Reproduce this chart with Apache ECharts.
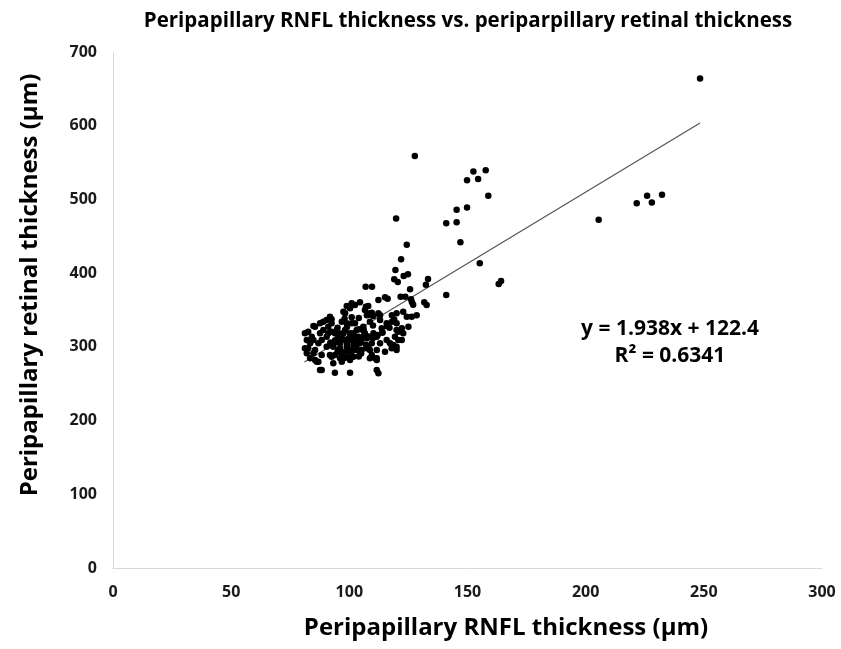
<!DOCTYPE html>
<html>
<head>
<meta charset="utf-8">
<script src="https://cdn.jsdelivr.net/npm/echarts@6/dist/echarts.min.js"></script>
<style>
  html, body { margin: 0; padding: 0; background: #fff; }
  #scatter { width: 841px; height: 649px; }
</style>
</head>
<body>
<div id="scatter"></div>
<script>
// 데이터
const rnfl = [
  248.4, 205.5, 221.6, 226, 228, 232.3,
  127.7, 152.5, 157.7, 149.8, 154.5, 158.8,
  119.8, 145.4, 149.8, 141, 145.4, 147,
  124.3, 121.9, 155.2, 163.2, 164.2,
  119.5, 123, 124.8, 119, 120.5,
  106.9, 109.6, 133.3, 132.4, 125.7, 141,
  115.1, 116.2, 112.3, 121.7, 123.7,
  131.7, 132.7, 126.5, 127, 107,
  98.9, 101, 102.4, 104.5, 97.5, 91.8,
  109.5, 110.2, 126.1,
  108.7, 112.3, 113, 118, 120, 122.8, 124.3,
  92.5, 89, 84.8, 81.2, 82, 82.6, 83.4,
  85.5, 86.9, 87.6, 93.9, 100.3, 111.6, 112.3,
  108.7, 111.6, 115.1, 118.6, 120, 122.2,
  125, 120, 122.2, 126.4, 115.8, 118, 113.7,
  110.2, 111.6, 109.5, 107.4, 104.5, 100.3,
  101.7, 96.8, 96.1, 93.2, 91.8, 90.4, 91.8,
  90.4, 91.1, 92.5, 94.7, 95.3, 96.1,
  97.5, 98.2, 98.9, 98.9, 100.3, 101, 101.7,
  102.4, 103.1, 103.8, 104.5, 105.9, 106.6,
  107.4, 87.6, 88.3, 86.9, 84.8, 85.5, 84.8,
  88.3, 93.9, 95.3, 92.5, 98.9, 102.4, 108.7,
  113, 120, 128.5, 115.8, 117.2, 113, 111.6,
  122.8, 108, 109.5, 120.7, 119.3, 117.9, 120,
  120.7, 108.7, 109.5, 110.9, 111.6,
  98.2, 100.3, 106.6, 107.4, 90.4, 87.6, 85.5,
  82.6, 84.1, 83.4, 81.2, 82, 86.2, 88.3,
  93.9, 95.3, 93.2, 96.8, 99.6, 92.5, 98.2,
  101.7, 103.1, 105.2, 105.9, 101, 91.1, 96.8,
  // 밀집 영역 추가
  94, 96, 97, 99, 100, 102, 103, 105, 106, 108,
  95, 97, 99, 101, 103, 104, 106, 108, 110, 112,
  94, 96, 98, 100, 102, 104, 105, 107, 114, 116,
  89, 92, 95, 98, 101, 104, 110, 114, 117, 119
];
const retinal = [
  664, 472.5, 494.8, 505, 496, 506.5,
  559, 538, 539.5, 526, 527.7, 505,
  474, 486, 489, 467.6, 469, 442,
  438.6, 418.8, 413.4, 385.3, 389.4,
  404.3, 396, 398.5, 391.7, 388,
  381.6, 381.6, 392, 384.4, 378, 370.4,
  367.3, 365.4, 363.6, 368, 368,
  360.4, 356.8, 360.4, 357, 354.5,
  355.4, 359, 356.8, 360.4, 347.7, 341,
  346.4, 342, 364.5,
  345.5, 345.5, 343, 343, 345.5, 347.7, 341,
  337.4, 334, 328.3, 318.4, 309.3, 298.1, 284.5,
  282.2, 279.9, 268.6, 265, 265, 268.6, 264.1,
  284.5, 284.5, 293.4, 302.5, 295.8, 309.3,
  327.4, 322.9, 325.2, 341, 332, 334.2, 325.2,
  318.4, 313.8, 304.8, 298.1, 291.3, 282.2,
  286.7, 279.9, 284.5, 277.7, 289, 300.2, 302.5,
  313.8, 318.4, 320.6, 322.9, 313.8, 304.8,
  318.4, 309.3, 300.2, 293.4, 318.4, 309.3, 302.5,
  295.8, 322.9, 313.8, 304.8, 327.4, 318.4,
  311.6, 318.4, 309.3, 304.8, 309.3, 295.8, 291.3,
  289, 289, 295.8, 332, 332, 332, 334.2,
  336.5, 332, 343, 309.3, 304.8, 304.8, 295.8,
  318.4, 355.4, 343, 320.6, 313.8, 298.1, 300.2,
  309.3, 295.8, 289, 284.5, 282.2,
  345.5, 352.3, 350, 343, 336.5, 332, 327.4,
  320.6, 313.8, 304.8, 298.1, 291.3, 279.9, 268.6,
  318.4, 309.3, 300.2, 293.4, 286.7, 286.7, 322.9,
  318.4, 304.8, 295.8, 313.8, 332, 327.4, 334.2,
  306, 298, 311, 304, 296, 315, 299, 307, 324, 314,
  326, 290, 327, 294, 308, 287, 322, 300, 329, 316,
  309, 318, 285, 312, 306, 324, 291, 303, 320, 328,
  323, 306, 293, 338, 340, 339, 312, 319, 326, 337
];
// 추세선 양 끝점
const trendX = [81, 248.4];
const trendY = [279.4, 603.8];
const xTicks = [0, 300, 50];
const yTicks = [0, 700, 100];
const equation = 'y = 1.938x + 122.4';
const rSquared = 'R² = 0.6341';

const points = rnfl.map((x, i) => [x, retinal[i]]);
const trend = trendX.map((x, i) => [x, trendY[i]]);

const font = '"Open Sans", "Noto Sans CJK KR", sans-serif';

let myChart = echarts.init(document.getElementById('scatter'));
const option = {
  backgroundColor: '#fff',
  animation: false,
  grid: { left: 113, right: 19, top: 52, bottom: 81 },
  xAxis: {
    type: 'value',
    min: xTicks[0], max: xTicks[1], interval: xTicks[2],
    axisLine: { lineStyle: { color: '#d9d9d9', width: 1 } },
    axisTick: { show: false },
    splitLine: { show: false },
    axisLabel: { color: '#1a1a1a', fontSize: 16, fontWeight: 'bold', fontFamily: font, margin: 16 }
  },
  yAxis: {
    type: 'value',
    min: yTicks[0], max: yTicks[1], interval: yTicks[2],
    axisLine: { show: true, lineStyle: { color: '#d9d9d9', width: 1 } },
    axisTick: { show: false },
    splitLine: { show: false },
    axisLabel: { color: '#1a1a1a', fontSize: 16, fontWeight: 'bold', fontFamily: font, margin: 16 }
  },
  series: [
    {
      type: 'line',
      data: trend,
      symbol: 'none',
      lineStyle: { color: '#555', width: 1.2 },
      z: 1
    },
    {
      type: 'scatter',
      data: points,
      symbolSize: 6.5,
      itemStyle: { color: '#000', opacity: 1 },
      z: 2
    }
  ],
  graphic: [
    {
      type: 'text', x: 468, y: 21,
      style: { text: 'Peripapillary RNFL thickness vs. periparpillary retinal thickness',
        font: 'bold 20.5px ' + font, fill: '#000', align: 'center', verticalAlign: 'middle' }
    },
    {
      type: 'text', x: 506, y: 628,
      style: { text: 'Peripapillary RNFL thickness (μm)',
        font: 'bold 24px ' + font, fill: '#000', align: 'center', verticalAlign: 'middle' }
    },
    {
      type: 'text', x: 30, y: 285, rotation: Math.PI / 2,
      style: { text: 'Peripapillary retinal thickness (μm)',
        font: 'bold 24px ' + font, fill: '#000', align: 'center', verticalAlign: 'middle' }
    },
    {
      type: 'text', x: 670, y: 329,
      style: { text: equation, font: 'bold 21px ' + font, fill: '#000', align: 'center', verticalAlign: 'middle' }
    },
    {
      type: 'text', x: 670, y: 356,
      style: { text: rSquared, font: 'bold 21px ' + font, fill: '#000', align: 'center', verticalAlign: 'middle' }
    }
  ]
};
myChart.setOption(option);
window.addEventListener('resize', () => myChart.resize());
</script>
</body>
</html>
